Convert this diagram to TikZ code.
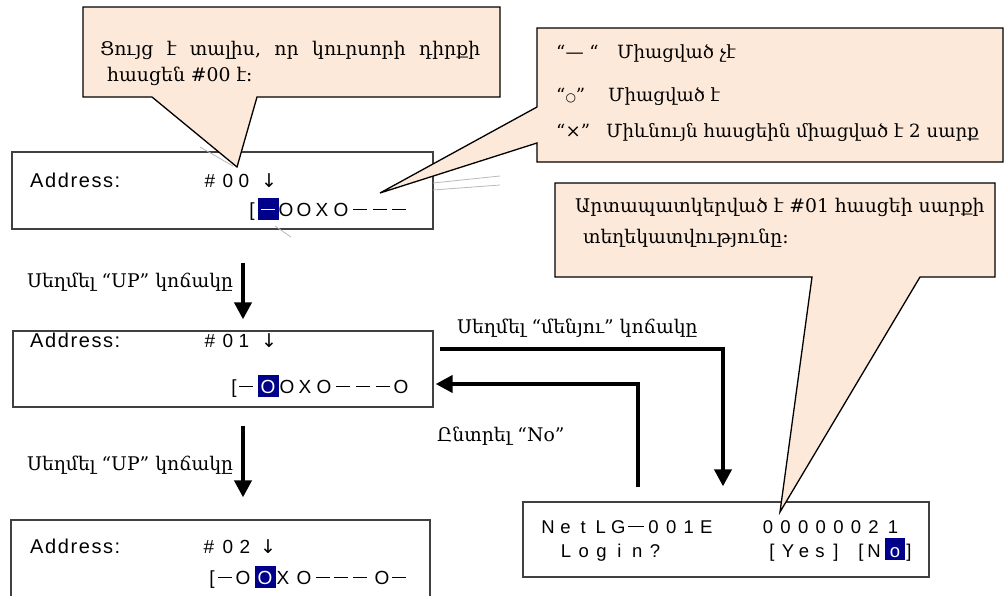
\documentclass[tikz,border=0pt]{standalone}
\usepackage{fontspec}
\setmainfont{DejaVu Serif}
\newfontfamily\lcdfont{Liberation Sans}
\newfontfamily\lcdwide{Liberation Sans}[LetterSpace=8]
\newfontfamily\symfont{DejaVu Sans}
\usetikzlibrary{arrows.meta}

\definecolor{callfill}{HTML}{FDE9D9}
\definecolor{lcdblue}{HTML}{00008B}
\definecolor{lcdedge}{HTML}{404040}

% a bar-shaped dash as shown on the LCD
\newcommand\lcdbar{\rule[6pt]{14pt}{1.5pt}}
\newcommand\lcdbarl{\rule[6pt]{16pt}{1.5pt}}
% one LCD row: prefix, baseline, list of x/character
\newcommand\lcdchars[3]{\foreach \px/\ch [count=\k] in {#3} {\node[lcdch] (#1-\k) at (\px,#2) {\ch};}}

\begin{document}
\begin{tikzpicture}[x=1pt,y=-1pt,
  callout/.style={draw=black,line width=1.3pt,fill=callfill,line join=miter},
  lcdbox/.style={draw=lcdedge,line width=1.3pt,fill=white,inner sep=0pt},
  flow/.style={line width=4pt,-{Triangle[width=17pt,length=17pt]}},
  arm/.style={font=\fontsize{18.8}{22}\selectfont,inner sep=0pt,anchor=base west},
  legend/.style={arm,font=\fontsize{18.2}{22}\selectfont},
  lcdch/.style={font=\lcdfont\fontsize{19}{19}\selectfont,inner sep=0pt,anchor=base},
  lcdhl/.style={lcdch,text=white},
  hlbox/.style={fill=lcdblue,inner sep=0pt,minimum width=21pt,minimum height=22pt},
  lcdlabel/.style={font=\lcdwide\fontsize{20}{20}\selectfont,inner sep=0pt,anchor=base west},
  stray/.style={draw=gray!55,line width=0.8pt}]

\useasboundingbox (0,0) rectangle (1005,595);
\clip (0,0) rectangle (1005,595);

% ---------- LCD screens ----------
\node[lcdbox,minimum width=421pt,minimum height=77pt] (lcd1) at (222.5,190.5) {};
\node[lcdbox,minimum width=420pt,minimum height=76pt] (lcd2) at (223,369) {};
\node[lcdbox,minimum width=419pt,minimum height=100pt] (lcd3) at (220.5,570) {};
\node[lcdbox,minimum width=406pt,minimum height=75pt] (lcd4) at (726,539.5) {};

% screen 1
\node[lcdlabel] (ad1) at (30,187) {Address:};
\lcdchars{a1}{187}{210/\#,228/0,244/0,269/{\symfont↓}}
\node[hlbox] (hl1) at (268,208.5) {};
\node[lcdhl] (w1) at (268,216) {\lcdbar};
\lcdchars{r1}{216}{252/[,286/O,304/O,322/X,341/O,360/\lcdbar,380/\lcdbar,399/\lcdbar}

% screen 2
\node[lcdlabel] (ad2) at (30,347) {Address:};
\lcdchars{a2}{347}{210/\#,228/0,244/1,269/{\symfont↓}}
\node[hlbox] (hl2) at (268,386) {};
\node[lcdhl] (w2) at (268,393) {O};
\lcdchars{r2}{393}{234/[,246/\lcdbar,287/O,305/X,324/O,343/\lcdbar,363/\lcdbar,383/\lcdbar,401/O}

% screen 3
\node[lcdlabel] (ad3) at (30,553) {Address:};
\lcdchars{a3}{553}{209/\#,228/0,245/2,268/{\symfont↓}}
\node[hlbox] (hl3) at (265,577) {};
\node[lcdhl] (w3) at (265,584) {O};
\lcdchars{r3}{584}{212/[,225/\lcdbar,243/O,283/X,304/O,323/\lcdbar,341/\lcdbar,360/\lcdbar,382/O,399/\lcdbar}

% screen 4
\begin{scope}[lcdch/.append style={font=\lcdfont\fontsize{18.5}{19}\selectfont}]
\lcdchars{n4}{533}{548/N,565.6/e,583.2/t,600.8/L,618.4/G,636/\lcdbarl,653.6/0,671.2/0,688.8/1,706.4/E}
\lcdchars{c4}{533}{768/0,785.6/0,803.2/0,820.8/0,838.4/0,856/0,873.6/2,893/1}
\lcdchars{g4}{557}{566/L,583.8/o,601.6/g,619.4/i,637.2/n,655/?}
\lcdchars{y4}{557}{772/[,788/Y,804/e,820/s,836/],861/[,874/N,909/]}
\node[hlbox,minimum width=20pt] (hl4) at (895,549) {};
\node[lcdhl] (w4) at (895,557) {o};
\end{scope}

% faint leftover guide lines on screen 1
\draw[stray] (200,147) -- (233,166);
\draw[stray] (275,226) -- (291,237);
\draw[stray] (433,183) -- (500,176);
\draw[stray] (433,190) -- (500,185);

% ---------- flow arrows ----------
\coordinate (a1x) at (243,0);
\coordinate (mstart) at (440,349);
\coordinate (mx) at (723,0);
\coordinate (nx) at (638,0);
\coordinate (ny) at (0,384);

\draw[flow,shorten <=33pt,shorten >=11pt] (lcd1.south -| a1x) -- (lcd2.north -| a1x);
\draw[flow,shorten <=18pt,shorten >=22pt] (lcd2.south -| a1x) -- (lcd3.north -| a1x);
\draw[flow,shorten >=15pt] (mstart) -| (lcd4.north -| mx);
\draw[flow,shorten <=14pt,shorten >=2pt] (lcd4.north -| nx) |- (lcd2.east |- ny);

\node[arm] (up1) at (27,287) {Սեղմել “UP” կոճակը};
\node[arm] (up2) at (27,470) {Սեղմել “UP” կոճակը};
\node[arm] (menu) at (457,333) {Սեղմել “մենյու” կոճակը};
\node[arm] (no) at (437,441) {Ընտրել “No”};

% ---------- callouts ----------
\draw[callout] (83,7) -- (500,7) -- (500,97) -- (257,97) -- (237,167) -- (152,97) -- (83,97) -- cycle;
\node[arm] (tl1) at (100,55) {\hbox to 380pt{Ցույց\hfil է\hfil տալիս,\hfil որ\hfil կուրսորի\hfil դիրքի}};
\node[arm] (tl2) at (107,81) {հասցեն \#00 է։};

\draw[callout] (537,28) -- (1003,28) -- (1003,162) -- (537,162) -- (537,143) -- (380,193) -- (537,107) -- cycle;
\node[legend] (q1) at (556,58) {“— “};
\node[legend] (d1) at (617,58) {Միացված չէ};
\node[legend] (q2) at (556,101) {“{\symfont\fontsize{12}{12}\selectfont ○}”};
\node[legend] (d2) at (608,101) {Միացված է};
\node[legend] (q3) at (556,137) {“×”};
\node[legend] (d3) at (606,137) {Միևնույն հասցեին միացված է 2 սարք};

\draw[callout] (555,183) -- (995,183) -- (995,277) -- (920,277) -- (780,512) -- (812,277) -- (555,277) -- cycle;
\node[arm] (rc1) at (575,212) {Արտապատկերված է \#01 հասցեի սարքի};
\node[arm] (rc2) at (583,243) {տեղեկատվությունը։};
\end{tikzpicture}
\end{document}
